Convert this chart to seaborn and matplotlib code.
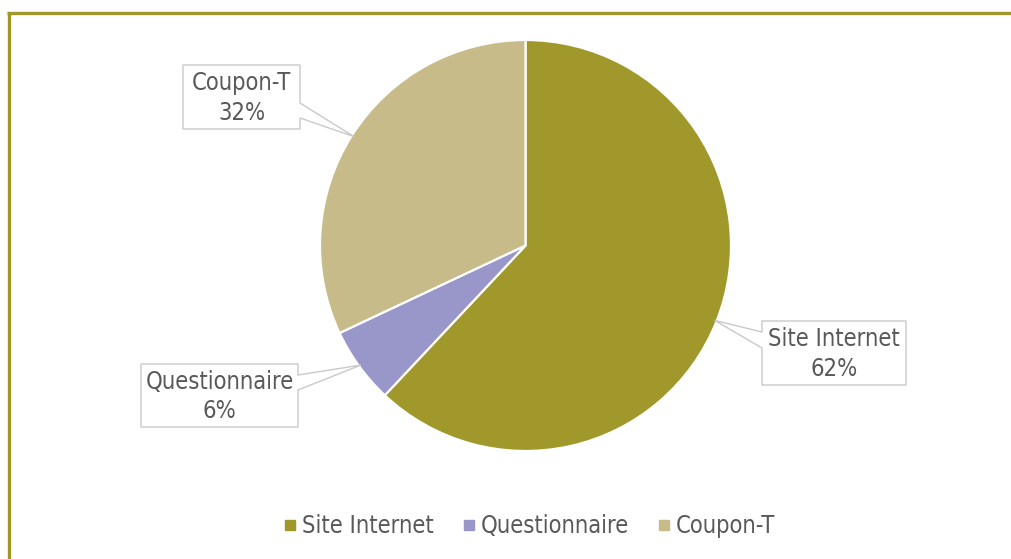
import matplotlib
matplotlib.use("Agg")
import matplotlib.pyplot as plt
from matplotlib.patches import Polygon
from matplotlib.lines import Line2D
import numpy as np
import seaborn as sns

# Data
categories = ["Site Internet", "Questionnaire", "Coupon-T"]
shares = [62, 6, 32]
colors = ["#a0982a", "#9996c9", "#c6bb89"]

sns.set_theme(style="white")
plt.rcParams["font.family"] = ["DejaVu Sans"]
plt.rcParams["font.stretch"] = "condensed"

TEXT = "#595959"
FRAME = "#a0982a"
W, H = 1012, 559
fig = plt.figure(figsize=(W / 100, H / 100), dpi=100)
fig.patch.set_facecolor("white")
ax = fig.add_axes([0, 0, 1, 1])

# Pie placement in pixels (origin top-left)
CX, CY, R = 525.5, 245.5, 205.5


def to_data(px, py):
    return ((px - CX) / R, (CY - py) / R)


wedges, _ = ax.pie(
    shares, colors=colors, startangle=90, counterclock=False, radius=1,
    wedgeprops=dict(edgecolor="white", linewidth=1.6),
)
ax.set_xlim(-CX / R, (W - CX) / R)
ax.set_ylim(-(H - CY) / R, CY / R)
ax.set_aspect("auto")
ax.axis("off")

# Callout boxes: (left, top, right, bottom, base_top, base_bottom) in pixels
boxes = {
    "Site Internet": (762, 321, 906, 385, 332, 348),
    "Questionnaire": (141, 364, 298, 427, 375, 390),
    "Coupon-T": (183, 65, 300, 129, 103, 118),
}

for wedge, name, val in zip(wedges, categories, shares):
    mid = np.deg2rad((wedge.theta1 + wedge.theta2) / 2)
    anchor = (np.cos(mid) * 0.99, np.sin(mid) * 0.99)
    x0, y0, x1, y1, b0, b1 = boxes[name]
    if anchor[0] * R + CX > x1:
        pts = [(x0, y0), (x1, y0), (x1, b0), None, (x1, b1), (x1, y1), (x0, y1)]
    else:
        pts = [(x0, y0), (x1, y0), (x1, y1), (x0, y1), (x0, b1), None, (x0, b0)]
    verts = [anchor if p is None else to_data(*p) for p in pts]
    ax.add_patch(Polygon(verts, closed=True, facecolor="white",
                         edgecolor="#c9c9c9", linewidth=1.0, zorder=5))
    tx, ty = to_data((x0 + x1) / 2, (y0 + y1) / 2 + 1)
    ax.text(tx, ty, f"{name}\n{val}%", ha="center", va="center",
            fontsize=17, color=TEXT, linespacing=1.3, zorder=6)

# Legend
handles = [Line2D([], [], marker="s", linestyle="none", markersize=7.2,
                  markerfacecolor=c, markeredgecolor=c) for c in colors]
fig.legend(handles, categories, loc="center", bbox_to_anchor=(529 / W, 1 - 526 / H),
           ncol=3, frameon=False, fontsize=17, labelcolor=TEXT,
           handlelength=0.6, handletextpad=0.21, columnspacing=1.19)

# Chart frame (top and left edges visible)
fig.add_artist(Line2D([7.5 / W, 1], [1 - 13.3 / H] * 2, color=FRAME, linewidth=2.4,
                      transform=fig.transFigure, solid_capstyle="butt"))
fig.add_artist(Line2D([9.2 / W] * 2, [1 - 12 / H, 0], color=FRAME, linewidth=2.4,
                      transform=fig.transFigure, solid_capstyle="butt"))

fig.savefig("out.png", dpi=100, facecolor="white")
